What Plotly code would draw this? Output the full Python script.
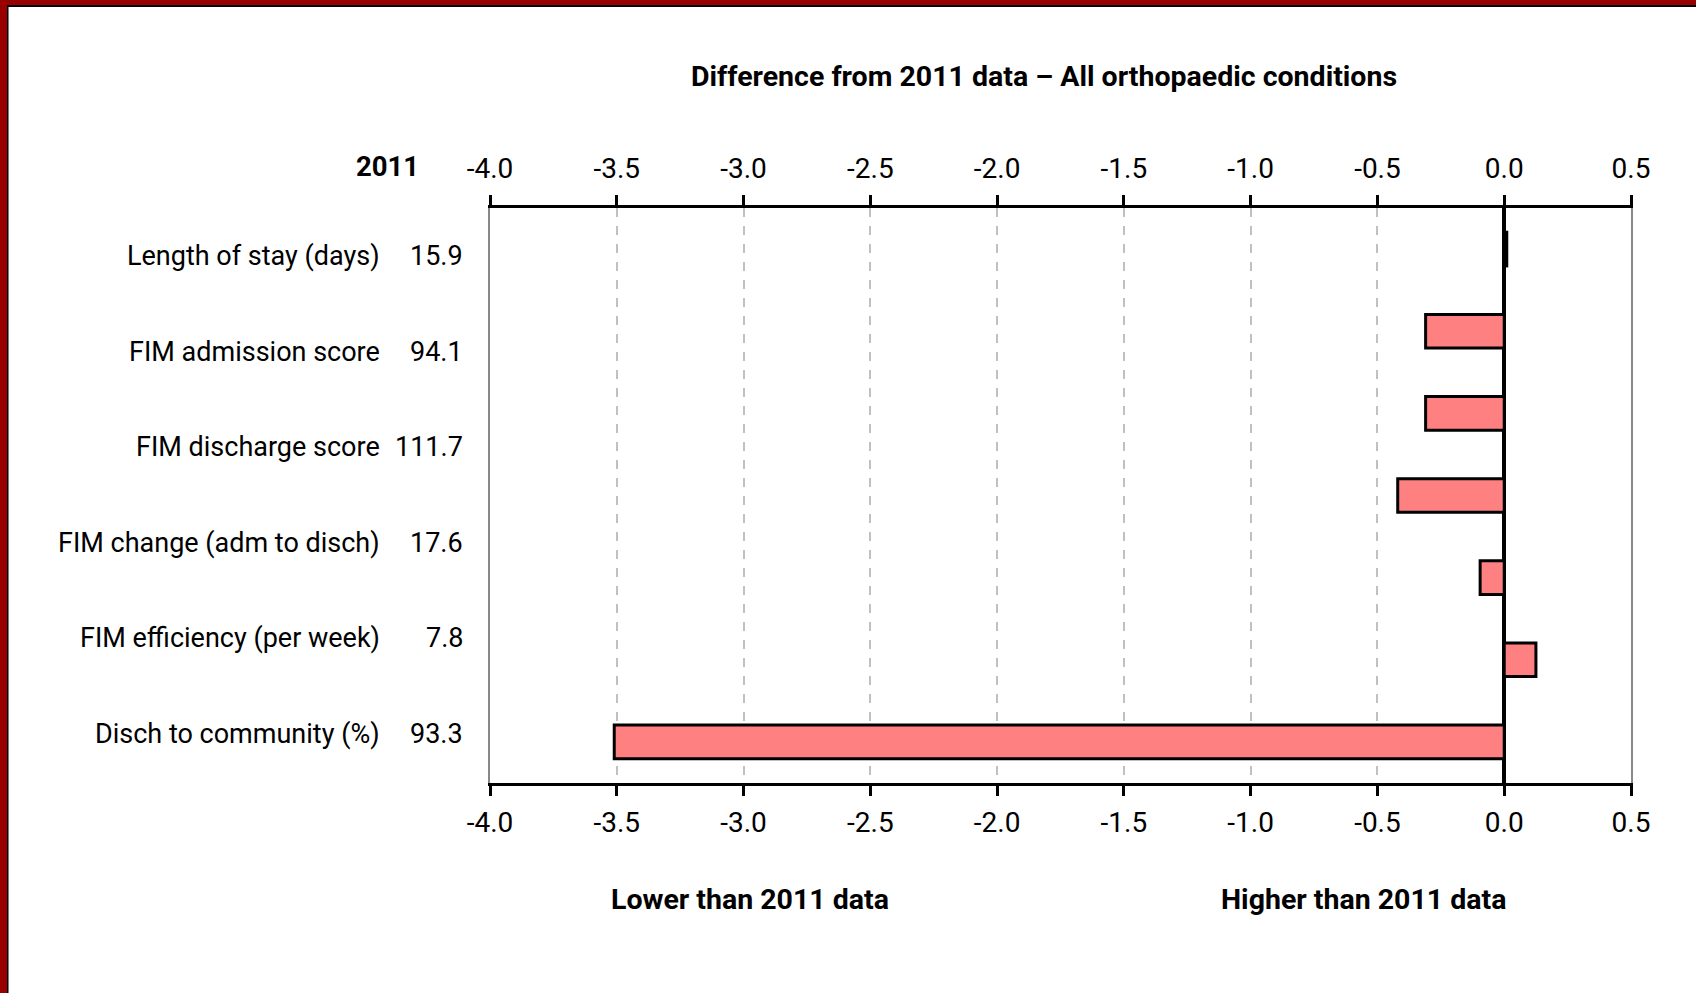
import plotly.graph_objects as go

# ---- data ----
bar_positions = [0, 1, 2, 3, 4, 5, 6]
bar_values = [0.01, -0.31, -0.31, -0.42, -0.095, 0.125, -3.51]

row_labels = ["Length of stay (days)", "FIM admission score", "FIM discharge score",
              "FIM change (adm to disch)", "FIM efficiency (per week)", "Disch to community (%)"]
row_values_2011 = ["15.9", "94.1", "111.7", "17.6", "7.8", "93.3"]
row_label_y = [0.9165, 0.7504, 0.5843, 0.4174, 0.2522, 0.0852]

tick_vals = [-4.0, -3.5, -3.0, -2.5, -2.0, -1.5, -1.0, -0.5, 0.0, 0.5]
tick_text = ["-4.0", "-3.5", "-3.0", "-2.5", "-2.0", "-1.5", "-1.0", "-0.5", "0.0", "0.5"]

title_text = "Difference from 2011 data \u2013 All orthopaedic conditions"
header_text = "2011"
lower_text = "Lower than 2011 data"
higher_text = "Higher than 2011 data"

FONT = "Roboto, sans-serif"
W, H = 1696, 993
L, R, T, B = 490, 65, 208, 210
PW, PH = W - L - R, H - T - B


def px(x):
    return (x - L) / PW


def py(y):
    return (H - B - y) / PH


fig = go.Figure()
fig.add_trace(go.Bar(
    x=bar_values, y=bar_positions, orientation="h",
    marker=dict(color="#FF8080", line=dict(color="black", width=3)),
    width=0.41, showlegend=False, hoverinfo="x",
))
# invisible trace so top axis renders
fig.add_trace(go.Scatter(x=[0], y=[0], xaxis="x2", mode="markers",
                         marker=dict(opacity=0), showlegend=False, hoverinfo="skip"))

axis_common = dict(
    range=[-4.0, 0.5], tickvals=tick_vals, ticktext=tick_text,
    showline=True, linecolor="black", linewidth=3,
    ticks="outside", tickcolor="black", tickwidth=3, ticklen=10,
    tickfont=dict(family=FONT, size=28, color="black"),
)

fig.update_layout(
    width=W, height=H,
    margin=dict(l=L, r=R, t=T, b=B, autoexpand=False),
    paper_bgcolor="white", plot_bgcolor="white",
    xaxis=dict(**axis_common, side="bottom",
               showgrid=True, gridcolor="#C0C0C0", gridwidth=2, griddash="dash",
               zeroline=True, zerolinecolor="black", zerolinewidth=4,
               ticklabelstandoff=2),
    xaxis2=dict(**axis_common, side="top", overlaying="x", anchor="y",
                showgrid=False, zeroline=False, ticklabelstandoff=6),
    yaxis=dict(range=[6.5, -0.5], showticklabels=False, showgrid=False,
               zeroline=False, showline=True, linecolor="#888888", linewidth=2,
               mirror=True, ticks=""),
    bargap=0.59,
)

ann = []
for lab, val, yy in zip(row_labels, row_values_2011, row_label_y):
    ann.append(dict(text=lab, x=px(382), y=yy, xref="paper", yref="paper",
                    xanchor="right", yanchor="middle", showarrow=False,
                    font=dict(family=FONT, size=27, color="black")))
    ann.append(dict(text=val, x=px(465), y=yy, xref="paper", yref="paper",
                    xanchor="right", yanchor="middle", showarrow=False,
                    font=dict(family=FONT, size=27, color="black")))
ann.append(dict(text="<b>" + header_text + "</b>", x=px(421), y=py(166), xref="paper", yref="paper",
                xanchor="right", yanchor="middle", showarrow=False,
                font=dict(family=FONT, size=27.5, color="black")))
ann.append(dict(text="<b>" + title_text + "</b>", x=px(1044), y=py(76), xref="paper", yref="paper",
                xanchor="center", yanchor="middle", showarrow=False,
                font=dict(family=FONT, size=28.5, color="black")))
ann.append(dict(text="<b>" + lower_text + "</b>", x=px(750), y=py(899), xref="paper", yref="paper",
                xanchor="center", yanchor="middle", showarrow=False,
                font=dict(family=FONT, size=28.5, color="black")))
ann.append(dict(text="<b>" + higher_text + "</b>", x=px(1363), y=py(899), xref="paper", yref="paper",
                xanchor="center", yanchor="middle", showarrow=False,
                font=dict(family=FONT, size=28.5, color="black")))
fig.update_layout(annotations=ann)

# decorative frame (dark red with thin black inner edge) on left and top
shapes = [
    dict(type="rect", xref="paper", yref="paper", x0=px(0), x1=px(7), y0=py(H), y1=py(0),
         fillcolor="#990000", line=dict(width=0), layer="above"),
    dict(type="rect", xref="paper", yref="paper", x0=px(7), x1=px(8.5), y0=py(H), y1=py(5),
         fillcolor="black", line=dict(width=0), layer="above"),
    dict(type="rect", xref="paper", yref="paper", x0=px(0), x1=px(W), y0=py(5), y1=py(0),
         fillcolor="#990000", line=dict(width=0), layer="above"),
    dict(type="rect", xref="paper", yref="paper", x0=px(7), x1=px(W), y0=py(7), y1=py(5),
         fillcolor="black", line=dict(width=0), layer="above"),
]
fig.update_layout(shapes=shapes)

fig.write_html("out.html", config={"displayModeBar": False},
               post_script="document.body.style.margin='0';document.body.style.overflow='hidden';")
